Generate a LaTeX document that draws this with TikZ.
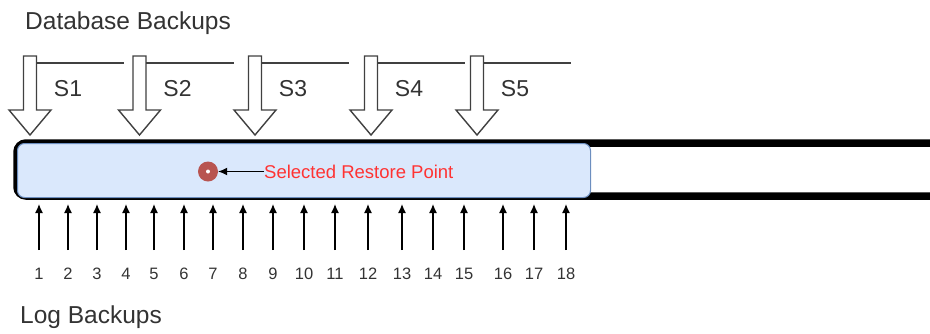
\documentclass[tikz,border=0pt]{standalone}
\usepackage{fontspec}
\setmainfont{Liberation Sans}
\usetikzlibrary{arrows.meta}
\definecolor{txt}{HTML}{333333}
\definecolor{bluefill}{HTML}{DAE8FC}
\definecolor{bluedraw}{HTML}{6C8EBF}
\definecolor{dotred}{HTML}{B85450}
\definecolor{redtxt}{HTML}{FF3333}
\definecolor{arrgray}{HTML}{404040}
\tikzset{
  title/.style={font=\fontsize{24.5}{28}\selectfont, text=txt, anchor=west, inner sep=0},
  slabel/.style={font=\fontsize{23}{27}\selectfont, text=txt, inner sep=0},
  numlabel/.style={font=\fontsize{16.5}{19}\selectfont, text=txt, inner sep=0},
  blockarrow/.style={draw=arrgray, fill=white, line width=1.4pt, line join=miter},
  sline/.style={draw=arrgray, line width=1.2pt},
  logarrow/.style={draw=black, line width=1.3pt, -{Latex[length=9pt,width=8pt]}},
  bluebox/.style={draw=bluedraw, fill=bluefill, line width=1pt, rounded corners=7pt, inner sep=0},
  outerbar/.style={draw=black, line width=7.5pt, rounded corners=9pt},
  dotstyle/.style={circle, fill=dotred, minimum size=20pt, inner sep=0},
  redtext/.style={font=\fontsize{18.5}{22}\selectfont, text=redtxt, anchor=west, inner sep=0},
}
\begin{document}
\begin{tikzpicture}[x=1pt,y=-1pt]
\useasboundingbox (0,0) rectangle (930,333);
\begin{scope}
\clip (0,0) rectangle (930,333);
% titles
\node[title] (dbt) at (25,23) {Database Backups};
\node[title] (lgt) at (20,317) {Log Backups};
% outer bar
\draw[outerbar] (17,143) rectangle (980,196);
% blue box
\node[bluebox, anchor=north west, minimum width=573pt, minimum height=54pt] (blue) at (17,143) {};
% top block arrows with lines and labels
\foreach \cx/\n in {30/1,139.5/2,255/3,371/4,477/5}{
  \path[blockarrow] (\cx-6.5,56) -- (\cx+6.5,56) -- (\cx+6.5,110) -- (\cx+21,110)
     -- (\cx,135) -- (\cx-21,110) -- (\cx-6.5,110) -- cycle;
  \coordinate (ls\n) at (\cx+6.5,63);
  \coordinate (le\n) at (\cx+94,63);
  \draw[sline] (ls\n) -- (le\n);
  \node[slabel] (s\n) at (\cx+38,89) {S\n};
}
% restore point
\node[dotstyle] (rp) at (208,171.5) {};
\fill[white] (rp.center) circle (2pt);
\node[redtext] (rpt) at (264,171.5) {Selected Restore Point};
\draw[black, line width=1.2pt, -{Latex[length=9pt,width=8pt]}] (rpt.west) -- (rp.east);
% log backup arrows
\foreach \x [count=\i] in {39,68,97,126,154,184,213,243,273,304,335,368,402,433,464,503,534,566}{
  \coordinate (b\i) at (\x,250);
  \coordinate (t\i) at (\x,204);
  \draw[logarrow] (b\i) -- (t\i);
  \node[numlabel] (n\i) at (\x,274) {\i};
}
\end{scope}
\end{tikzpicture}
\end{document}
